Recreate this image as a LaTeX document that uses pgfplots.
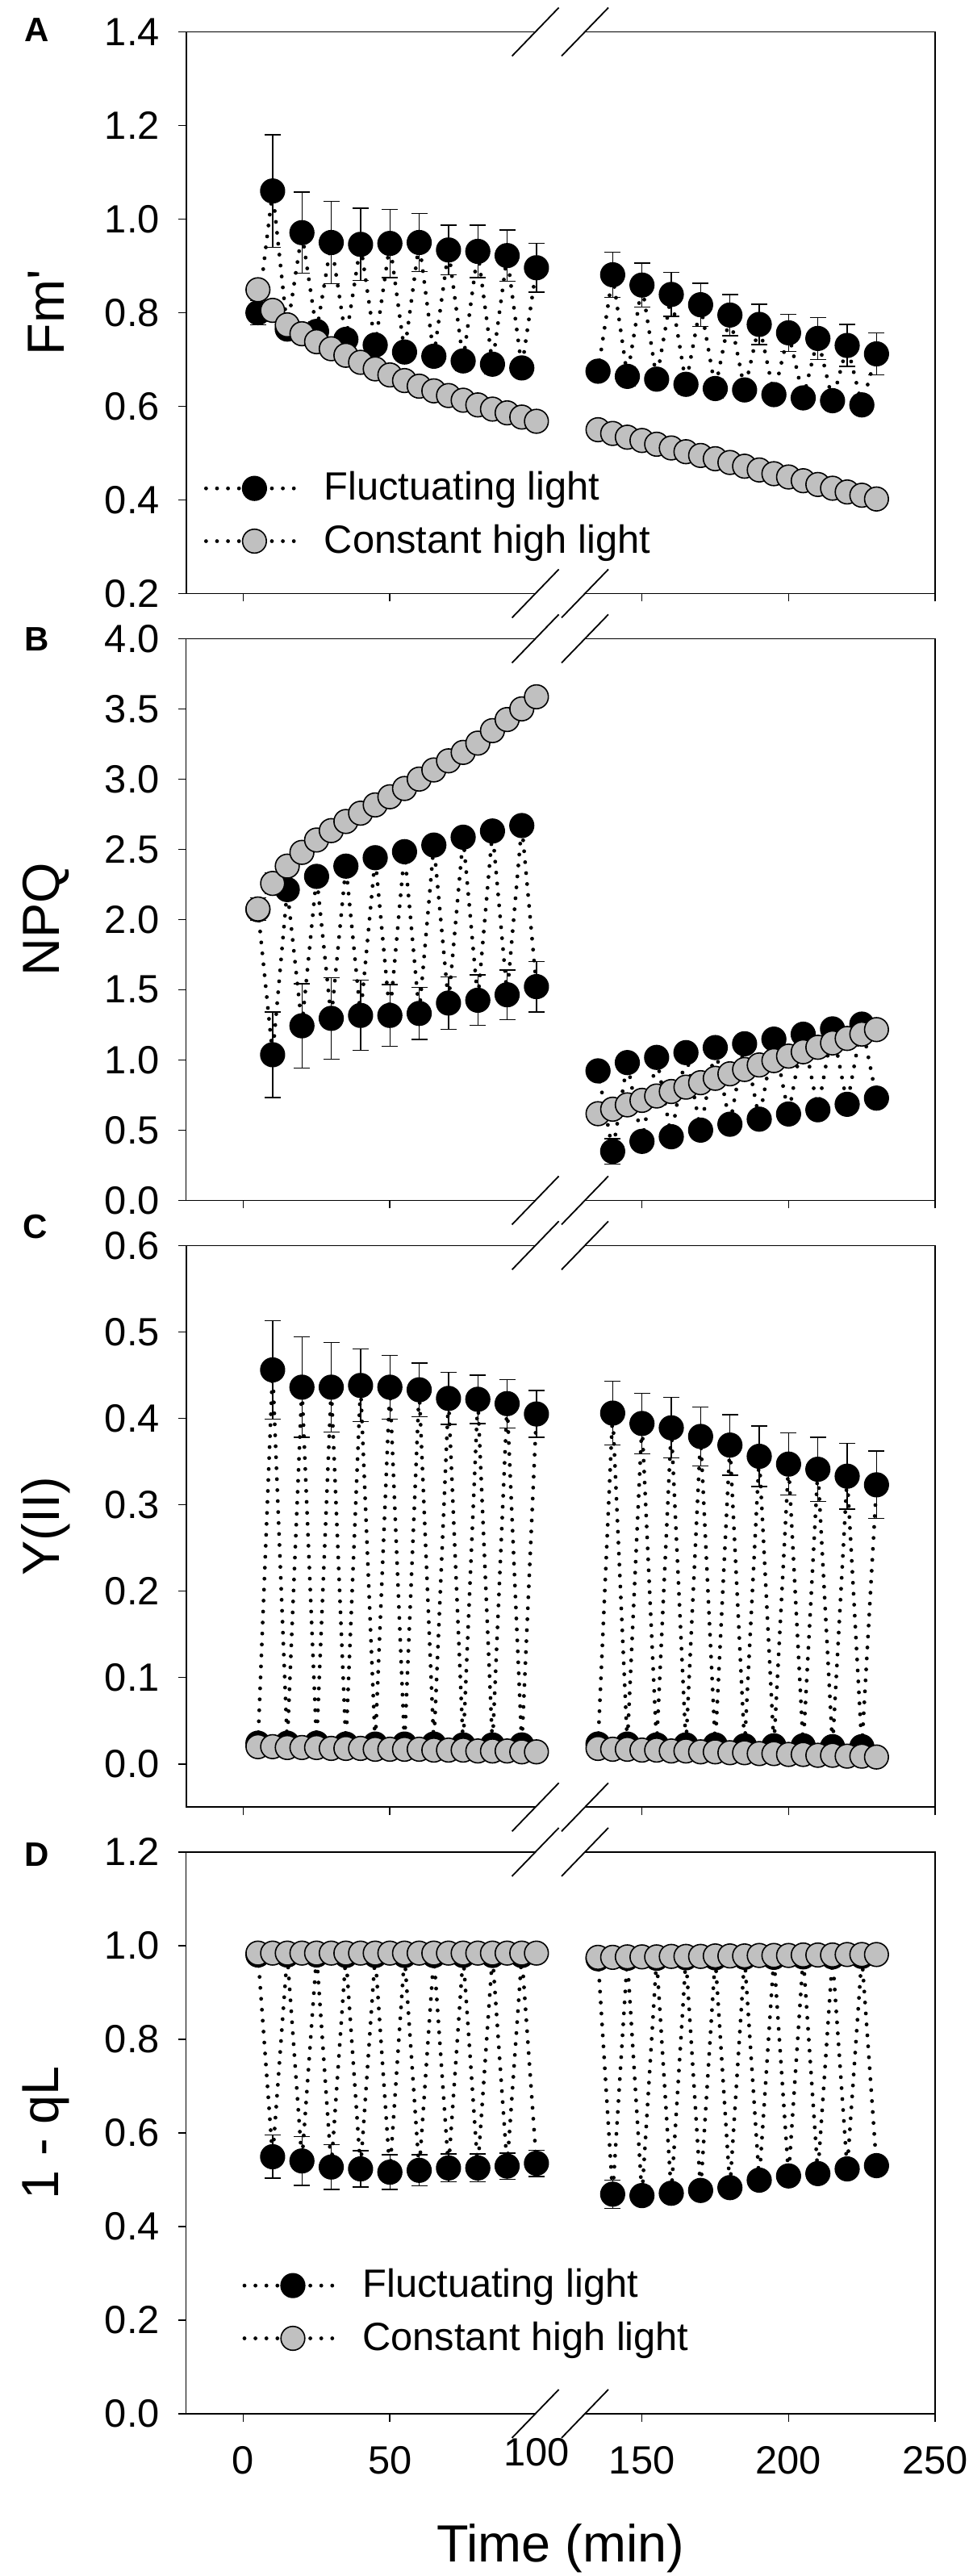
\documentclass[border=0pt]{standalone}
\usepackage{fontspec}
\setmainfont{Liberation Sans}
\usepackage{pgfplots}
\pgfplotsset{compat=1.18}
\definecolor{lgrey}{RGB}{192,192,192}
\newcommand\axbreak[1]{%
  \fill[white] (165.9pt,#1-0.9pt) rectangle (181.25pt,#1+0.9pt);
  \draw[line width=0.45pt] (158.65pt,#1-7.5pt) -- (173.15pt,#1+7.5pt);
  \draw[line width=0.45pt] (174pt,#1-7.5pt) -- (188.5pt,#1+7.5pt);
}
\pgfplotsset{
  base/.style={
    width=232.075pt, height=174pt, scale only axis,
    xmin=-19.5, xmax=250,
    x coord trafo/.code={\pgfmathparse{##1>115?##1-14:##1}},
    x coord inv trafo/.code={\pgfmathparse{##1>101?##1+14:##1}},
    xtick={0,50,150,200,250},
    extra x ticks={100},
    extra x tick style={major tick length=0pt},
    tick align=outside, major tick length=2.5pt,
    xtick pos=bottom, ytick pos=left,
    tick style={black, line width=0.4pt},
    axis line style={line width=0.4pt},
    tick label style={font=\fontsize{12.2}{14}\selectfont},
    xticklabel style={yshift=-4pt},
    yticklabel style={xshift=-2.2pt, /pgf/number format/.cd, fixed, fixed zerofill, precision=1, assume math mode=true},
    every axis y label/.style={at={(axis description cs:-0.1872,0.5)}, rotate=90, anchor=center, font=\fontsize{16.2}{19}\selectfont},
    legend style={draw=none, fill=none, inner sep=0pt, outer sep=0pt, row sep=2pt, column sep=4pt, font=\fontsize{12.2}{14}\selectfont},
    legend cell align=left,
    legend image code/.code={\draw[mark repeat=2,mark phase=2,##1] plot coordinates {(0pt,0pt) (15pt,0pt) (30pt,0pt)};},
    clip=false,
  },
  ebar/.style={
    error bars/y dir=both, error bars/y explicit,
    error bars/error bar style={solid, line width=0.35pt, line cap=butt},
    error bars/error mark options={solid, rotate=90, mark size=2.5pt, line width=0.35pt}},
  fl/.style={black, line width=1.2pt, dash pattern=on 0pt off 3.4pt, line cap=round,
    mark=*, mark size=3.7pt, mark options={solid, fill=black, draw=black, line width=0.4pt}, ebar},
  ch/.style={black, line width=1.2pt, dash pattern=on 0pt off 3.4pt, line cap=round,
    mark=*, mark size=3.7pt, mark options={solid, fill=lgrey, draw=black, line width=0.4pt}, ebar},
}
\begin{document}%
\begin{tikzpicture}%
% ---------------- Panel A ----------------
\begin{axis}[base, at={(57.675pt,614.125pt)}, anchor=south west,
  ymin=0.2, ymax=1.4, ytick={0.2,0.4,0.6,0.8,1.0,1.2,1.4},
  ylabel={Fm\textquotesingle}, xticklabels={}, extra x tick labels={},
  legend style={at={(axis description cs:0.024,0.2284)}, anchor=north west}]
\addplot[fl] table[x=t,y=v,y error=e] {
t v e
5 0.800 0.026
10 1.060 0.120
15 0.765 0.020
20 0.971 0.087
25 0.760 0.020
30 0.950 0.088
35 0.743 0.020
40 0.946 0.077
45 0.731 0.020
50 0.948 0.073
55 0.716 0.020
60 0.950 0.062
65 0.707 0.020
70 0.934 0.053
75 0.697 0.020
80 0.931 0.056
85 0.690 0.020
90 0.922 0.055
95 0.682 0.020
100 0.896 0.052
};
\addlegendentry{Fluctuating light}
\addplot[fl, forget plot] table[x=t,y=v,y error=e] {
t v e
135 0.675 0.020
140 0.881 0.048
145 0.664 0.020
150 0.859 0.047
155 0.658 0.020
160 0.839 0.047
165 0.647 0.020
170 0.817 0.046
175 0.638 0.020
180 0.795 0.044
185 0.635 0.020
190 0.775 0.043
195 0.625 0.020
200 0.757 0.040
205 0.618 0.020
210 0.745 0.045
215 0.612 0.020
220 0.730 0.045
225 0.603 0.020
230 0.712 0.045
};
\addplot[ch] table[x=t,y=v,y error=e] {
t v e
5 0.849 0.020
10 0.805 0.015
15 0.774 0.012
20 0.755 0.010
25 0.738 0.010
30 0.723 0.010
35 0.709 0.010
40 0.694 0.010
45 0.680 0.010
50 0.667 0.010
55 0.655 0.010
60 0.643 0.010
65 0.633 0.010
70 0.623 0.010
75 0.613 0.010
80 0.603 0.010
85 0.594 0.010
90 0.586 0.010
95 0.577 0.010
100 0.568 0.010
};
\addlegendentry{Constant high light}
\addplot[ch, forget plot] table[x=t,y=v,y error=e] {
t v e
135 0.550 0.010
140 0.542 0.010
145 0.534 0.010
150 0.527 0.010
155 0.519 0.010
160 0.511 0.010
165 0.503 0.010
170 0.495 0.010
175 0.488 0.010
180 0.480 0.010
185 0.472 0.010
190 0.464 0.010
195 0.456 0.010
200 0.449 0.010
205 0.441 0.010
210 0.433 0.010
215 0.425 0.010
220 0.417 0.010
225 0.410 0.010
230 0.402 0.010
};
\end{axis}
\axbreak{614.125pt}
\axbreak{788.125pt}
% ---------------- Panel B ----------------
\begin{axis}[base, at={(57.675pt,426.15pt)}, anchor=south west,
  ymin=0, ymax=4, ytick={0,0.5,1,1.5,2,2.5,3,3.5,4},
  ylabel={NPQ}, xticklabels={}, extra x tick labels={}]
\addplot[fl] table[x=t,y=v,y error=e] {
t v e
5 2.070 0.050
10 1.037 0.305
15 2.213 0.020
20 1.243 0.300
25 2.307 0.020
30 1.296 0.290
35 2.380 0.020
40 1.317 0.250
45 2.440 0.020
50 1.317 0.220
55 2.483 0.020
60 1.331 0.185
65 2.530 0.020
70 1.405 0.187
75 2.586 0.020
80 1.425 0.180
85 2.630 0.020
90 1.464 0.177
95 2.669 0.020
100 1.522 0.180
};
\addplot[fl] table[x=t,y=v,y error=e] {
t v e
135 0.922 0.020
140 0.349 0.090
145 0.981 0.020
150 0.420 0.030
155 1.018 0.020
160 0.453 0.020
165 1.052 0.020
170 0.500 0.020
175 1.088 0.020
180 0.542 0.020
185 1.115 0.020
190 0.578 0.020
195 1.148 0.020
200 0.615 0.020
205 1.183 0.020
210 0.645 0.020
215 1.221 0.020
220 0.684 0.020
225 1.255 0.020
230 0.728 0.020
};
\addplot[ch] table[x=t,y=v,y error=e] {
t v e
5 2.075 0.080
10 2.257 0.075
15 2.380 0.065
20 2.478 0.060
25 2.566 0.055
30 2.633 0.050
35 2.698 0.050
40 2.757 0.045
45 2.816 0.045
50 2.874 0.045
55 2.933 0.040
60 3.000 0.040
65 3.065 0.040
70 3.130 0.040
75 3.190 0.040
80 3.256 0.040
85 3.345 0.040
90 3.424 0.040
95 3.500 0.040
100 3.586 0.040
};
\addplot[ch] table[x=t,y=v,y error=e] {
t v e
135 0.617 0.020
140 0.649 0.020
145 0.680 0.020
150 0.712 0.020
155 0.743 0.020
160 0.775 0.020
165 0.806 0.020
170 0.838 0.020
175 0.869 0.020
180 0.901 0.020
185 0.932 0.020
190 0.964 0.020
195 0.995 0.020
200 1.027 0.020
205 1.058 0.020
210 1.090 0.020
215 1.121 0.020
220 1.153 0.020
225 1.184 0.020
230 1.216 0.020
};
\end{axis}
\axbreak{426.15pt}
\axbreak{600.15pt}
% ---------------- Panel C ----------------
\begin{axis}[base, at={(57.675pt,238.175pt)}, anchor=south west,
  ymin=-0.05, ymax=0.6, ytick={0,0.1,0.2,0.3,0.4,0.5,0.6},
  ylabel={Y(II)}, xticklabels={}, extra x tick labels={}]
\addplot[fl] table[x=t,y=v,y error=e] {
t v e
5 0.024 0.002
10 0.456 0.057
15 0.024 0.002
20 0.436 0.058
25 0.024 0.002
30 0.436 0.052
35 0.023 0.002
40 0.438 0.042
45 0.023 0.002
50 0.436 0.037
55 0.023 0.002
60 0.433 0.031
65 0.023 0.002
70 0.423 0.030
75 0.022 0.002
80 0.422 0.028
85 0.022 0.002
90 0.417 0.028
95 0.022 0.002
100 0.405 0.027
};
\addplot[fl] table[x=t,y=v,y error=e] {
t v e
135 0.023 0.002
140 0.406 0.037
145 0.023 0.002
150 0.394 0.035
155 0.022 0.002
160 0.389 0.035
165 0.022 0.002
170 0.379 0.034
175 0.022 0.002
180 0.369 0.035
185 0.021 0.002
190 0.356 0.035
195 0.021 0.002
200 0.347 0.036
205 0.021 0.002
210 0.341 0.037
215 0.020 0.002
220 0.333 0.038
225 0.020 0.002
230 0.323 0.039
};
\addplot[ch] table[x=t,y=v,y error=e] {
t v e
5 0.020 0.002
10 0.020 0.002
15 0.019 0.002
20 0.019 0.002
25 0.019 0.002
30 0.018 0.002
35 0.018 0.002
40 0.018 0.002
45 0.017 0.002
50 0.017 0.002
55 0.017 0.002
60 0.017 0.002
65 0.016 0.002
70 0.016 0.002
75 0.016 0.002
80 0.015 0.002
85 0.015 0.002
90 0.015 0.002
95 0.014 0.002
100 0.014 0.002
};
\addplot[ch] table[x=t,y=v,y error=e] {
t v e
135 0.018 0.002
140 0.017 0.002
145 0.017 0.002
150 0.016 0.002
155 0.016 0.002
160 0.015 0.002
165 0.015 0.002
170 0.014 0.002
175 0.014 0.002
180 0.013 0.002
185 0.013 0.002
190 0.012 0.002
195 0.012 0.002
200 0.011 0.002
205 0.011 0.002
210 0.010 0.002
215 0.010 0.002
220 0.009 0.002
225 0.009 0.002
230 0.008 0.002
};
\end{axis}
\axbreak{238.175pt}
\axbreak{412.175pt}
% ---------------- Panel D ----------------
\begin{axis}[base, at={(57.675pt,50.275pt)}, anchor=south west,
  ymin=0, ymax=1.2, ytick={0,0.2,0.4,0.6,0.8,1.0,1.2},
  ylabel={1 - qL}, xticklabels={0,50,150,200,250}, extra x tick labels={100},
  xlabel={Time (min)},
  every axis x label/.style={at={(axis description cs:0.5,-0.2645)}, anchor=base, font=\fontsize{16.2}{19}\selectfont},
  legend style={at={(axis description cs:0.0753,0.2693)}, anchor=north west}]
\addplot[fl] table[x=t,y=v,y error=e] {
t v e
5 0.980 0.005
10 0.549 0.046
15 0.980 0.005
20 0.540 0.052
25 0.980 0.005
30 0.527 0.048
35 0.979 0.005
40 0.523 0.039
45 0.979 0.005
50 0.516 0.037
55 0.979 0.005
60 0.520 0.033
65 0.979 0.005
70 0.525 0.030
75 0.979 0.005
80 0.525 0.030
85 0.979 0.005
90 0.529 0.028
95 0.979 0.005
100 0.535 0.028
};
\addlegendentry{Fluctuating light}
\addplot[fl, forget plot] table[x=t,y=v,y error=e] {
t v e
135 0.972 0.005
140 0.469 0.030
145 0.973 0.005
150 0.466 0.020
155 0.973 0.005
160 0.471 0.015
165 0.974 0.005
170 0.477 0.010
175 0.974 0.005
180 0.483 0.010
185 0.975 0.005
190 0.499 0.010
195 0.975 0.005
200 0.508 0.010
205 0.976 0.005
210 0.513 0.010
215 0.976 0.005
220 0.523 0.010
225 0.977 0.005
230 0.530 0.010
};
\addplot[ch] table[x=t,y=v,y error=e] {
t v e
5 0.984 0.005
10 0.984 0.005
15 0.984 0.005
20 0.984 0.005
25 0.984 0.005
30 0.984 0.005
35 0.984 0.005
40 0.984 0.005
45 0.984 0.005
50 0.984 0.005
55 0.984 0.005
60 0.984 0.005
65 0.984 0.005
70 0.984 0.005
75 0.984 0.005
80 0.984 0.005
85 0.984 0.005
90 0.984 0.005
95 0.984 0.005
100 0.984 0.005
};
\addlegendentry{Constant high light}
\addplot[ch, forget plot] table[x=t,y=v,y error=e] {
t v e
135 0.975 0.005
140 0.975 0.005
145 0.976 0.005
150 0.976 0.005
155 0.976 0.005
160 0.977 0.005
165 0.977 0.005
170 0.977 0.005
175 0.978 0.005
180 0.978 0.005
185 0.978 0.005
190 0.979 0.005
195 0.979 0.005
200 0.979 0.005
205 0.980 0.005
210 0.980 0.005
215 0.980 0.005
220 0.981 0.005
225 0.981 0.005
230 0.981 0.005
};
\end{axis}
\axbreak{50.275pt}
\axbreak{224.275pt}
% panel letters
\node[font=\bfseries\fontsize{10.5}{12}\selectfont] at (11.5pt,788.75pt) {A};
\node[font=\bfseries\fontsize{10.5}{12}\selectfont] at (11.5pt,600pt) {B};
\node[font=\bfseries\fontsize{10.5}{12}\selectfont] at (11pt,418pt) {C};
\node[font=\bfseries\fontsize{10.5}{12}\selectfont] at (11.5pt,223.5pt) {D};
\pgfresetboundingbox
\path[use as bounding box] (0,0) rectangle (300pt,798pt);
\end{tikzpicture}%
\end{document}
